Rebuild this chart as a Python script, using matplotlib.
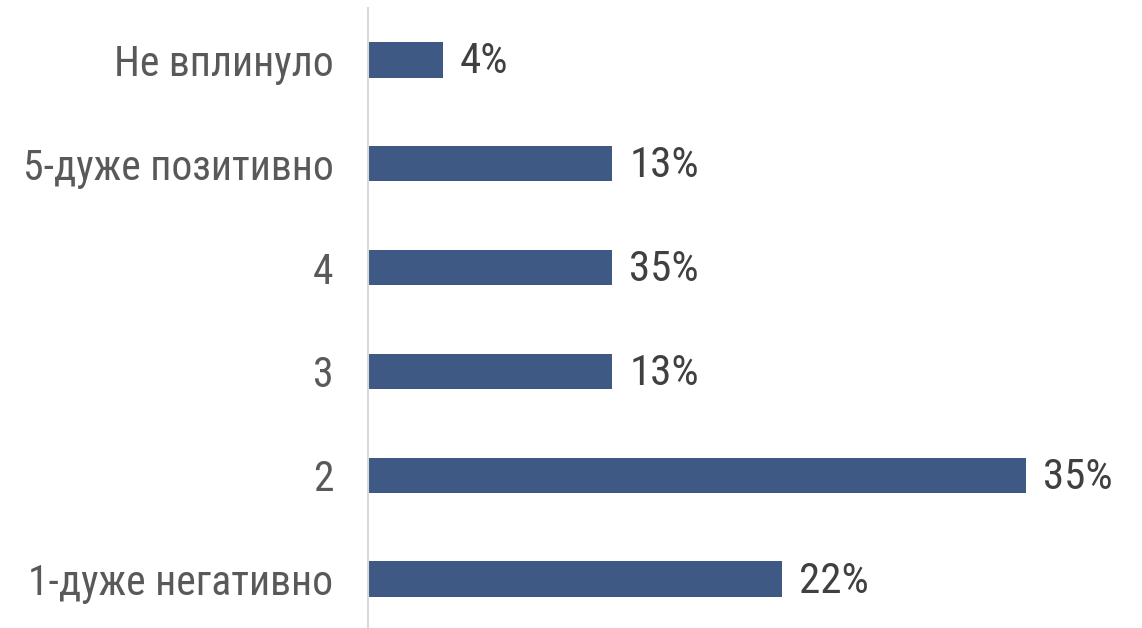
import matplotlib
matplotlib.use("Agg")
import matplotlib.pyplot as plt
from matplotlib import font_manager

categories = ["Не вплинуло", "5-дуже позитивно", "4", "3", "2", "1-дуже негативно"]
values = [4, 13, 13, 13, 35, 22]
value_labels = ["4%", "13%", "35%", "13%", "35%", "22%"]

names = {f.name for f in font_manager.fontManager.ttflist}
font = "Liberation Sans"
for cand in ["Roboto Condensed", "Liberation Sans Narrow", "Open Sans Condensed"]:
    if cand in names:
        font = cand
        break
plt.rcParams["font.family"] = [font, "DejaVu Sans"]

fig = plt.figure(figsize=(11.42, 6.28), dpi=100)
ax = fig.add_axes([368 / 1142, -3 / 628, 752 / 1142, 623 / 628])

pos = list(range(len(categories)))
ax.barh(pos, values, height=0.34, color="#3e5a84")
for p, v, lab in zip(pos, values, value_labels):
    ax.text(v + 0.9, p + 0.02, lab, va="center", ha="left", fontsize=31, color="#404040")

ax.set_ylim(len(categories) - 0.5, -0.5)
ax.set_xlim(0, 40)
ax.set_yticks(pos)
ax.set_yticklabels(categories, fontsize=30, color="#595959")
ax.tick_params(axis="y", length=0, pad=25)
ax.set_xticks([])
for s in ["top", "right", "bottom"]:
    ax.spines[s].set_visible(False)
ax.spines["left"].set_color("#d9d9d9")
ax.spines["left"].set_linewidth(1.5)

fig.savefig("out.png", dpi=100)
